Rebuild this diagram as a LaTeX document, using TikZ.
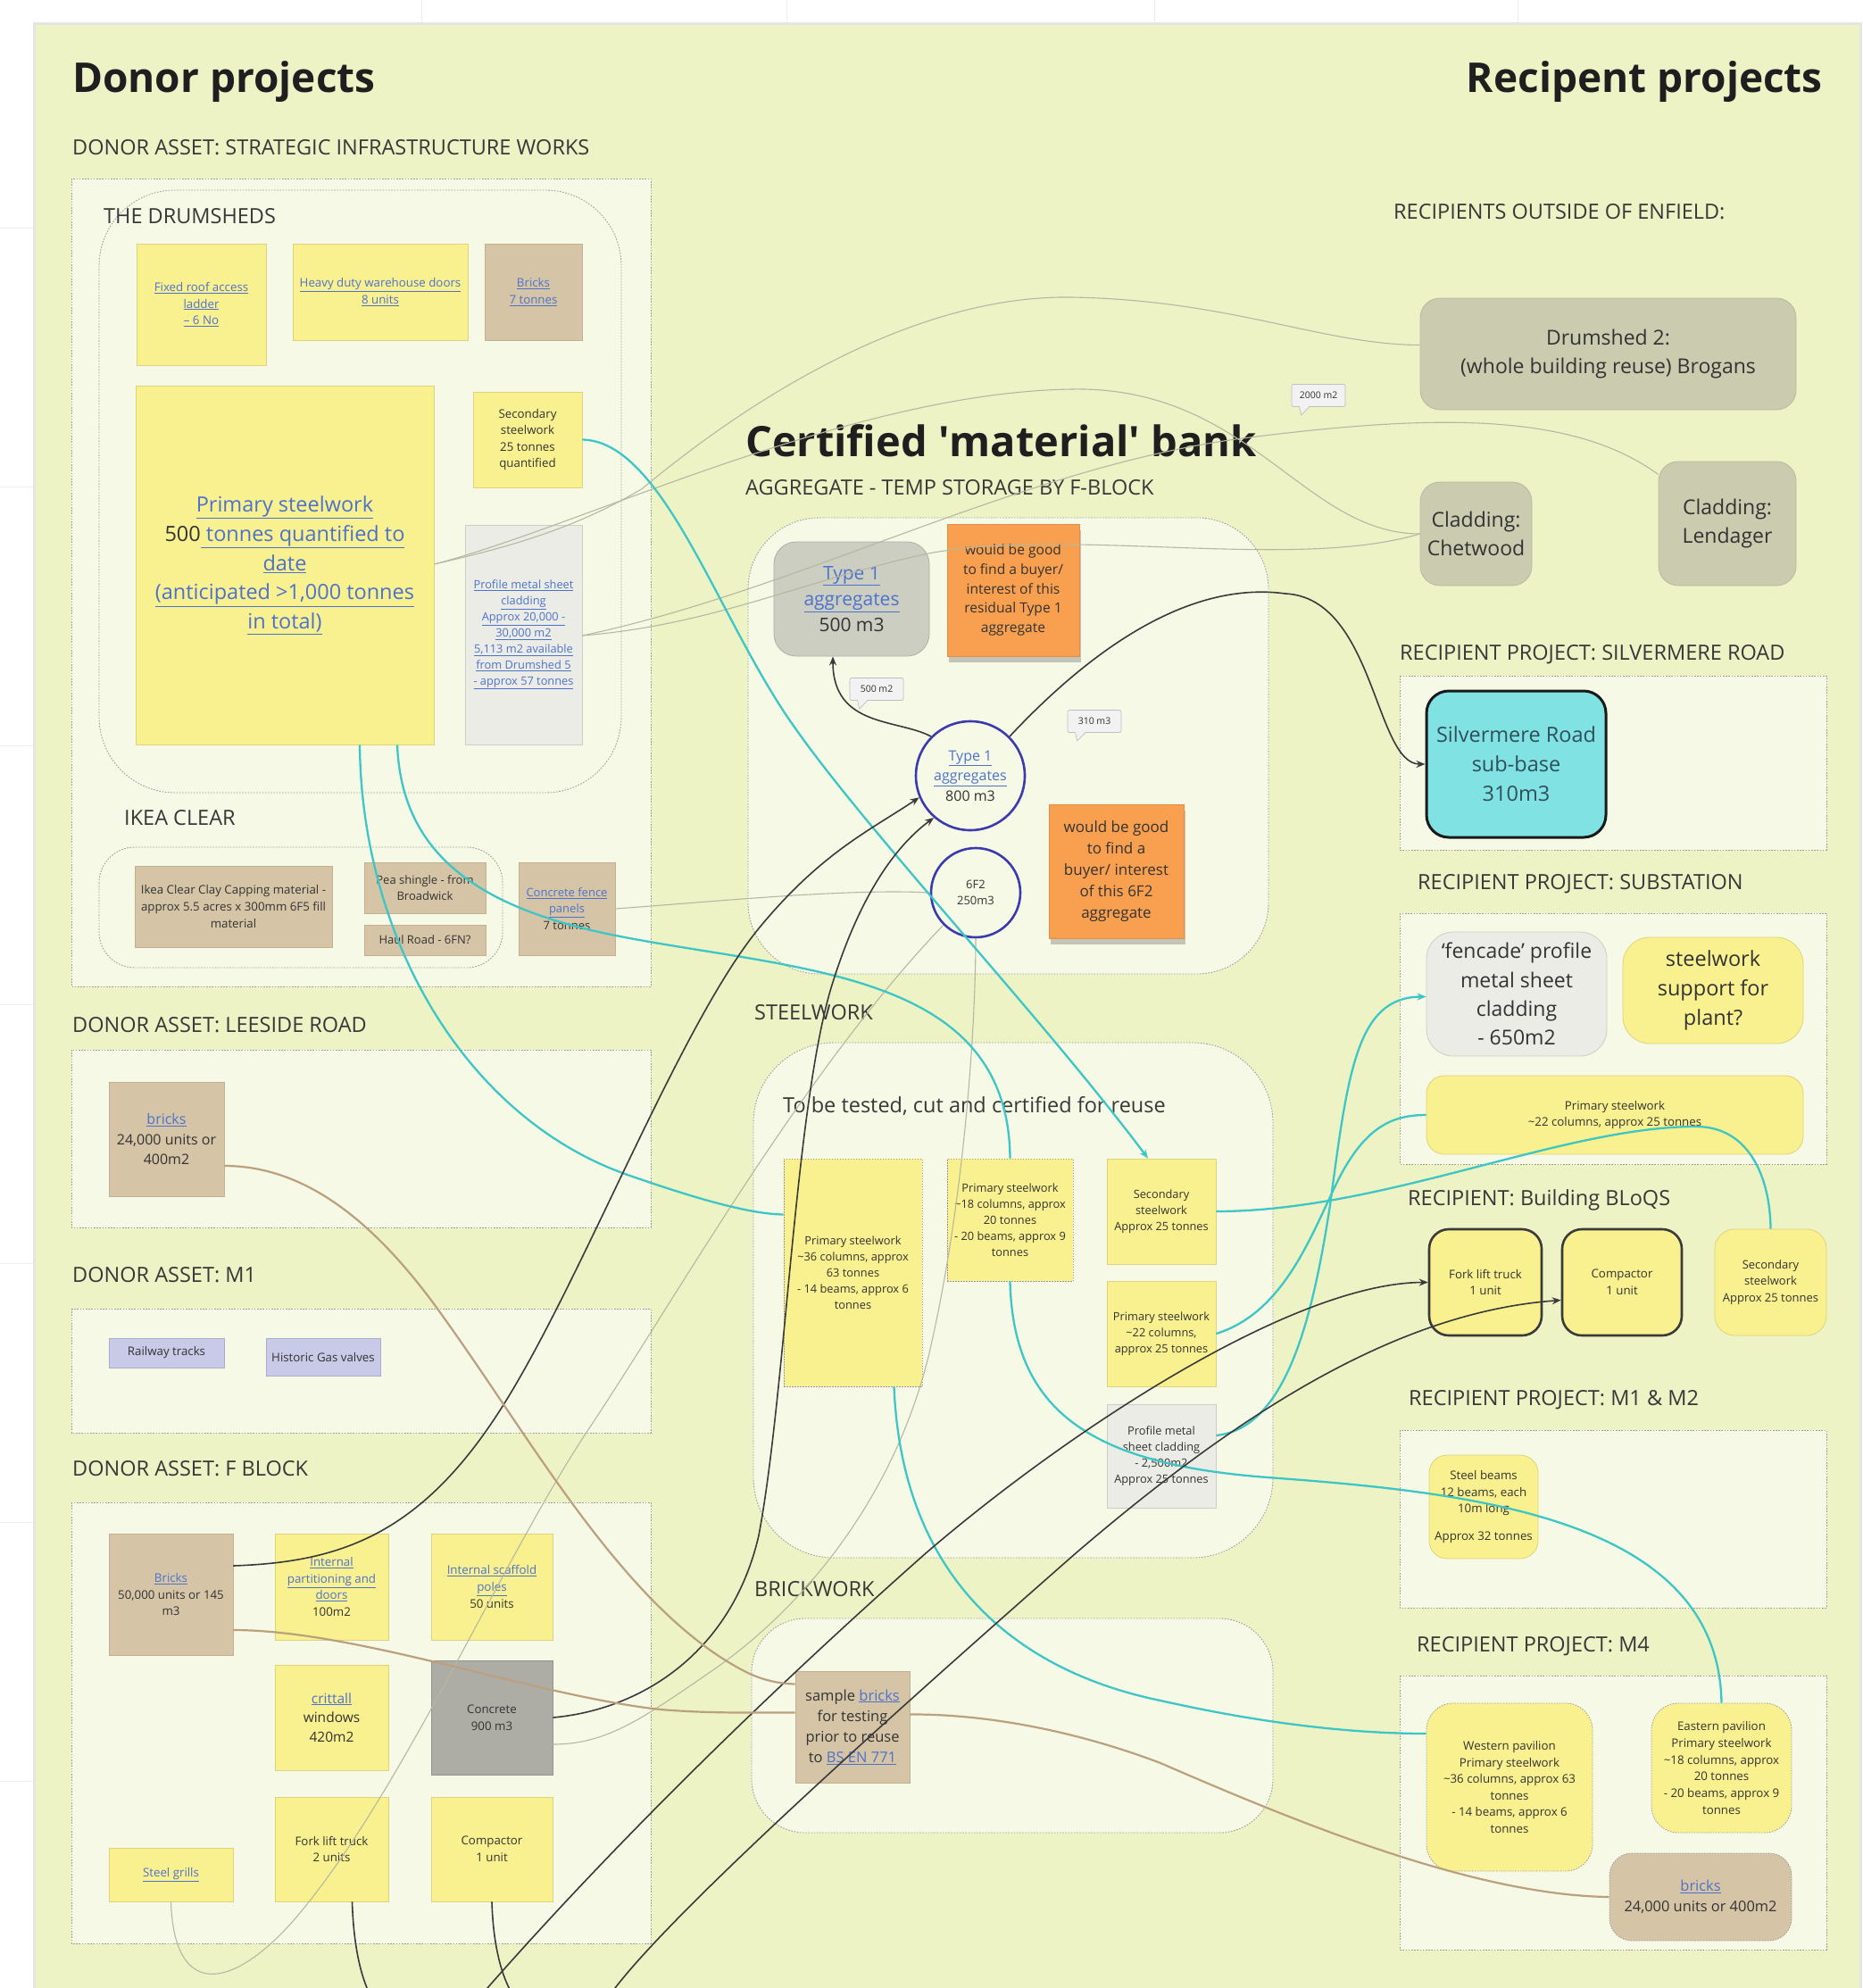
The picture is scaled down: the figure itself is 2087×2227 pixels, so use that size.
\documentclass[tikz,border=0pt]{standalone}
\usepackage{fontspec}
\setmainfont{Open Sans}
\usetikzlibrary{arrows.meta,calc,shadows}

\definecolor{board}{HTML}{EEF3C6}
\definecolor{pale}{HTML}{F6F9E6}
\definecolor{ylw}{HTML}{F9F08F}
\definecolor{ylwd}{HTML}{DDD37C}
\definecolor{tanc}{HTML}{D5C5A6}
\definecolor{tand}{HTML}{C2B190}
\definecolor{greyw}{HTML}{ECECE7}
\definecolor{greywd}{HTML}{CDCDC6}
\definecolor{olive}{HTML}{CBCBB0}
\definecolor{olived}{HTML}{B9B99E}
\definecolor{tonegrey}{HTML}{CDCEC2}
\definecolor{orng}{HTML}{F8A04F}
\definecolor{circ}{HTML}{3B3BAE}
\definecolor{cyanbox}{HTML}{80E2E2}
\definecolor{lav}{HTML}{C9C9E8}
\definecolor{lavd}{HTML}{ABABCC}
\definecolor{concc}{HTML}{ADADA6}
\definecolor{cyanl}{HTML}{3EC6C6}
\definecolor{brownl}{HTML}{BBA07E}
\definecolor{grayl}{HTML}{B5B8A0}
\definecolor{blk}{HTML}{3A3A3A}
\definecolor{link}{HTML}{4D72CC}
\definecolor{txt}{HTML}{333333}
\definecolor{tealtxt}{HTML}{2F4F5A}

\newcommand{\lnk}[1]{\textcolor{link}{\underline{#1}}}
\newcommand{\fsz}[1]{\fontsize{#1}{\dimexpr#1pt*7/5\relax}\selectfont}
% card: [options]{name}{style}{x1}{y1}{x2}{y2}{text}
\newcommand{\card}[8][]{%
  \pgfmathsetmacro{\cardw}{#6-#4}%
  \pgfmathsetmacro{\cardh}{#7-#5}%
  \node[#3, minimum width=\cardw pt, minimum height=\cardh pt, #1] (#2) at ({(#4+#6)/2},{(#5+#7)/2}) {#8};}
\newcommand{\bubbletail}[1]{%
  \fill[white!95!black] ($(#1.south west)+(9,-1)$) -- ($(#1.south west)+(11,9)$) -- ($(#1.south west)+(20,-1)$) -- cycle;
  \draw[black!25, line width=0.7pt] ($(#1.south west)+(9,0)$) -- ($(#1.south west)+(11,9)$) -- ($(#1.south west)+(20,0)$);}

\tikzset{
  every node/.style={text=txt, align=center, inner sep=3pt},
  yel/.style={rectangle, fill=ylw, draw=ylwd, line width=0.8pt},
  yelthick/.style={rectangle, fill=ylw, draw=blk, line width=2.6pt},
  tanbox/.style={rectangle, fill=tanc, draw=tand, line width=0.8pt},
  greybox/.style={rectangle, fill=greyw, draw=greywd, line width=0.8pt},
  lavbox/.style={rectangle, fill=lav, draw=lavd, line width=0.8pt},
  concbox/.style={rectangle, fill=concc, draw=concc!85!black, line width=0.8pt},
  olbox/.style={rectangle, fill=olive, draw=olived, line width=0.8pt},
  tonebox/.style={rectangle, fill=tonegrey, draw=tonegrey!85!black, line width=0.8pt},
  orbox/.style={rectangle, fill=orng, draw=orng!90!black, line width=0.6pt,
    drop shadow={shadow xshift=2pt, shadow yshift=-7pt, opacity=0.35, fill=black!60}},
  cybox/.style={rectangle, fill=cyanbox, draw=black!90, line width=3pt, text=tealtxt},
  ring/.style={circle, draw=circ, line width=2.6pt, fill=pale, minimum size=122pt, inner sep=0pt},
  dotb/.style={dash pattern=on 1.5pt off 1.5pt, draw=black!40},
  cont/.style={fill=pale, draw=black!38, dash pattern=on 1.6pt off 1.6pt, line width=0.9pt},
  hd/.style={font=\bfseries\fsz{46}, text=black!88, inner sep=0pt},
  sec/.style={font=\fsz{23.5}, text=black!78, inner sep=0pt, anchor=west},
  bubble/.style={rectangle, rounded corners=2pt, fill=white!95!black, draw=black!25, line width=0.7pt,
    font=\fsz{10.5}, minimum width=60pt, minimum height=25pt, inner sep=2pt},
  cy/.style={draw=cyanl, line width=2.3pt},
  bk/.style={draw=blk, line width=1.6pt},
  br/.style={draw=brownl, line width=2.2pt},
  fg/.style={draw=grayl, line width=1.1pt},
  tip/.style={-{Stealth[length=10pt,width=8pt]}},
}

\begin{document}
\begin{tikzpicture}[x=1pt,y=-1pt]
\useasboundingbox (0,0) rectangle (2087,2227);
\clip (0,0) rectangle (2087,2227);

% canvas and board
\fill[white] (0,0) rectangle (2087,2227);
\foreach \gx in {472,881,1293,1700} \draw[black!7, line width=1pt] (\gx,0) -- (\gx,28);
\foreach \gy in {255,545,835,1125,1415,1705,1995} \draw[black!7, line width=1pt] (0,\gy) -- (40,\gy);
\fill[black!10] (37,25) rectangle (2086,2227);
\fill[board] (40,28) rectangle (2083,2227);

% group containers
\draw[cont] (80,200) rectangle (729,1105);
\draw[cont, rounded corners=85pt] (111,213) rectangle (696,888);
\draw[cont, rounded corners=40pt] (111,949) rectangle (563,1084);
\draw[cont] (80,1176) rectangle (729,1375);
\draw[cont] (80,1466) rectangle (729,1605);
\draw[cont] (80,1683) rectangle (729,2177);
\draw[cont, rounded corners=80pt] (838,580) rectangle (1421,1091);
\draw[cont, rounded corners=90pt] (844,1168) rectangle (1426,1745);
\draw[cont, rounded corners=60pt] (842,1813) rectangle (1426,2053);
\draw[cont] (1568,757) rectangle (2046,952);
\draw[cont] (1568,1023) rectangle (2046,1304);
\draw[cont] (1568,1602) rectangle (2046,1801);
\draw[cont] (1568,1877) rectangle (2046,2184);

% titles and section labels
\node[hd, anchor=west] (tDonor) at (81,92) {Donor projects};
\node[hd, anchor=east] (tRecip) at (2042,92) {Recipent projects};
\node[hd, font=\bfseries\fsz{47}, anchor=west] (tBank) at (835,494) {Certified \textquotesingle material\textquotesingle\ bank};
\node[sec] (lblSIW) at (81,165) {DONOR ASSET: STRATEGIC INFRASTRUCTURE WORKS};
\node[sec] (lblDrum) at (116,242) {THE DRUMSHEDS};
\node[sec] (lblIkea) at (139,916) {IKEA CLEAR};
\node[sec] (lblLee) at (81,1148) {DONOR ASSET: LEESIDE ROAD};
\node[sec] (lblM1) at (81,1428) {DONOR ASSET: M1};
\node[sec] (lblF) at (81,1645) {DONOR ASSET: F BLOCK};
\node[sec] (lblAgg) at (835,546) {AGGREGATE - TEMP STORAGE BY F-BLOCK};
\node[sec] (lblSteel) at (845,1134) {STEELWORK};
\node[sec] (lblTest) at (877,1239) {To be tested, cut and certified for reuse};
\node[sec] (lblBrick) at (845,1780) {BRICKWORK};
\node[sec] (lblOut) at (1561,237) {RECIPIENTS OUTSIDE OF ENFIELD:};
\node[sec] (lblSilv) at (1568,733) {RECIPIENT PROJECT: SILVERMERE ROAD};
\node[sec] (lblSub) at (1588,990) {RECIPIENT PROJECT: SUBSTATION};
\node[sec] (lblBloqs) at (1577,1344) {RECIPIENT: Building BLoQS};
\node[sec] (lblM12) at (1578,1568) {RECIPIENT PROJECT: M1 \& M2};
\node[sec] (lblM4) at (1587,1844) {RECIPIENT PROJECT: M4};

% The Drumsheds
\card[font=\fsz{13.3}]{ladder}{yel}{153}{273}{298}{409}{\lnk{Fixed roof access}\\\lnk{ladder}\\\lnk{– 6 No}}
\card[font=\fsz{13.3}]{doors}{yel}{328}{273}{524}{381}{\lnk{Heavy duty warehouse doors}\\\lnk{8 units}}
\card[font=\fsz{13.3}]{bricksD}{tanbox}{543}{273}{652}{381}{\lnk{Bricks}\\\lnk{7 tonnes}}
\card[font=\fsz{23.5}]{prim}{yel}{152}{432}{486}{834}{\lnk{Primary steelwork}\\500\lnk{ tonnes quantified to}\\\lnk{date}\\\lnk{(anticipated >1,000 tonnes}\\\lnk{in total)}}
\card[font=\fsz{13.3}]{dsec}{yel}{530}{439}{652}{546}{Secondary\\steelwork\\25 tonnes\\quantified}
\card[font=\fsz{12.8}]{dclad}{greybox}{521}{588}{652}{834}{\lnk{Profile metal sheet}\\\lnk{cladding}\\\lnk{Approx 20,000 -}\\\lnk{30,000 m2}\\\lnk{5,113 m2 available}\\\lnk{from Drumshed 5}\\\lnk{- approx 57 tonnes}}

% Ikea Clear
\card[font=\fsz{13.3}]{clay}{tanbox}{151}{970}{372}{1061}{Ikea Clear Clay Capping material -\\approx 5.5 acres x 300mm 6F5 fill\\material}
\card[font=\fsz{13}]{pea}{tanbox}{408}{966}{544}{1023}{Pea shingle - from\\Broadwick}
\card[font=\fsz{13}]{haul}{tanbox}{408}{1036}{544}{1070}{Haul Road - 6FN?}
\card[font=\fsz{13}]{fence}{tanbox}{581}{966}{689}{1070}{\lnk{Concrete fence}\\\lnk{panels}\\7 tonnes}

% Leeside Road
\card[font=\fsz{16}]{lbricks}{tanbox}{122}{1212}{251}{1340}{\lnk{bricks}\\24,000 units or\\400m2}

% M1
\card[font=\fsz{13.3}]{rail}{lavbox}{122}{1499}{251}{1532}{Railway tracks}
\card[font=\fsz{13.3}]{gas}{lavbox}{298}{1499}{426}{1541}{Historic Gas valves}

% F Block
\card[font=\fsz{13.3}]{fbricks}{tanbox}{122}{1718}{261}{1854}{\lnk{Bricks}\\50,000 units or 145\\m3}
\card[font=\fsz{13.3}]{part}{yel}{308}{1718}{435}{1837}{\lnk{Internal}\\\lnk{partitioning and}\\\lnk{doors}\\100m2}
\card[font=\fsz{13.3}]{scaff}{yel}{483}{1718}{619}{1837}{\lnk{Internal scaffold}\\\lnk{poles}\\50 units}
\card[font=\fsz{15.5}]{critt}{yel}{308}{1865}{435}{1983}{\lnk{crittall}\\windows\\420m2}
\card[font=\fsz{13.3}]{concr}{concbox}{483}{1860}{619}{1988}{Concrete\\900 m3}
\card[font=\fsz{13.3}]{grills}{yel}{122}{2070}{261}{2130}{\lnk{Steel grills}}
\card[font=\fsz{13.3}]{ffork}{yel}{308}{2013}{435}{2130}{Fork lift truck\\2 units}
\card[font=\fsz{13.3}]{fcomp}{yel}{483}{2013}{619}{2130}{Compactor\\1 unit}

% Aggregate bank
\card[font=\fsz{21}, rounded corners=25pt]{t1g}{tonebox}{867}{607}{1041}{735}{\lnk{Type 1}\\\lnk{aggregates}\\500 m3}
\card[font=\fsz{15.6}]{or1}{orbox}{1061}{587}{1209}{735}{would be good\\to find a buyer/\\interest of this\\residual Type 1\\aggregate}
\node[ring, font=\fsz{16}] (t1c) at (1087,869) {\lnk{Type 1}\\\lnk{aggregates}\\800 m3};
\node[ring, minimum size=100pt, font=\fsz{13}] (f62) at (1093,1000) {6F2\\250m3};
\card[font=\fsz{17}]{or2}{orbox}{1175}{901}{1326}{1051}{would be good\\to find a\\buyer/ interest\\of this 6F2\\aggregate}

% Steelwork bank
\card[font=\fsz{12.8}, dotb]{s36}{yel}{878}{1298}{1033}{1553}{Primary steelwork\\\textasciitilde36 columns, approx\\63 tonnes\\- 14 beams, approx 6\\tonnes}
\card[font=\fsz{12.8}, dotb]{s18}{yel}{1061}{1298}{1202}{1435}{Primary steelwork\\\textasciitilde18 columns, approx\\20 tonnes\\- 20 beams, approx 9\\tonnes}
\card[font=\fsz{12.8}]{ssec}{yel}{1240}{1298}{1362}{1416}{Secondary\\steelwork\\Approx 25 tonnes}
\card[font=\fsz{12.8}]{s22}{yel}{1240}{1435}{1362}{1553}{Primary steelwork\\\textasciitilde22 columns,\\approx 25 tonnes}
\card[font=\fsz{12.8}]{sclad}{greybox}{1240}{1573}{1362}{1689}{Profile metal\\sheet cladding\\- 2,500m2\\Approx 25 tonnes}

% Brickwork bank
\card[font=\fsz{16.5}]{sample}{tanbox}{891}{1872}{1019}{1997}{sample \lnk{bricks}\\for testing\\prior to reuse\\to \lnk{BS EN 771}}

% Recipients outside of Enfield
\card[font=\fsz{23}, rounded corners=22pt]{drum2}{olbox}{1591}{334}{2012}{459}{Drumshed 2:\\(whole building reuse) Brogans}
\card[font=\fsz{23}, rounded corners=22pt]{chet}{olbox}{1591}{540}{1716}{656}{Cladding:\\Chetwood}
\card[font=\fsz{23}, rounded corners=22pt]{lend}{olbox}{1858}{517}{2012}{656}{Cladding:\\Lendager}

% Silvermere Road
\card[font=\fsz{23.5}, rounded corners=25pt]{silv}{cybox}{1598}{774}{1799}{938}{Silvermere Road\\sub-base\\310m3}

% Substation
\card[font=\fsz{23}, rounded corners=30pt]{fenc}{greybox}{1598}{1044}{1800}{1183}{‘fencade’ profile\\metal sheet\\cladding\\- 650m2}
\card[font=\fsz{23.5}, rounded corners=30pt]{plant}{yel}{1818}{1050}{2020}{1169}{steelwork\\support for\\plant?}
\card[font=\fsz{13.3}, rounded corners=20pt]{subprim}{yel}{1598}{1205}{2020}{1293}{Primary steelwork\\\textasciitilde22 columns, approx 25 tonnes}

% Building BLoQS
\card[font=\fsz{13.3}, rounded corners=22pt]{bfork}{yelthick}{1601}{1377}{1727}{1496}{Fork lift truck\\1 unit}
\card[font=\fsz{13.3}, rounded corners=22pt]{bcomp}{yelthick}{1750}{1377}{1884}{1496}{Compactor\\1 unit}
\card[font=\fsz{13}, rounded corners=22pt]{bsec}{yel}{1921}{1377}{2046}{1496}{Secondary\\steelwork\\Approx 25 tonnes}

% M1 & M2
\card[font=\fsz{13.3}, rounded corners=20pt]{beams}{yel}{1601}{1630}{1723}{1746}{Steel beams\\12 beams, each\\10m long\\[12pt]Approx 32 tonnes}

% M4
\card[font=\fsz{13.3}, rounded corners=30pt, dotb]{west}{yel}{1598}{1908}{1784}{2096}{Western pavilion\\Primary steelwork\\\textasciitilde36 columns, approx 63\\tonnes\\- 14 beams, approx 6\\tonnes}
\card[font=\fsz{13.3}, rounded corners=30pt, dotb]{east}{yel}{1850}{1908}{2007}{2053}{Eastern pavilion\\Primary steelwork\\\textasciitilde18 columns, approx\\20 tonnes\\- 20 beams, approx 9\\tonnes}
\card[font=\fsz{16.4}, rounded corners=25pt, dotb]{m4bricks}{tanbox}{1803}{2076}{2007}{2174}{\lnk{bricks}\\24,000 units or 400m2}

% quantity call-outs
\node[bubble] (cb500) at (982,772) {500 m2};
\bubbletail{cb500}
\node[bubble] (cb310) at (1226,808) {310 m3};
\bubbletail{cb310}
\node[bubble] (cb2000) at (1477,443) {2000 m2};
\bubbletail{cb2000}

% faint links
\draw[fg] ($(prim.east)+(0,-1)$) .. controls (560,615) and (640,595) .. (720,547) .. controls (800,480) and (1000,330) .. (1200,333) .. controls (1380,336) and (1480,386) .. ($(drum2.west)+(0,-10)$);
\draw[fg] ($(prim.east)+(0,-1)$) .. controls (650,590) and (950,440) .. (1200,436) .. controls (1400,432) and (1460,598) .. (chet.west);
\draw[fg] ($(dclad.east)+(0,1)$) .. controls (900,660) and (1150,520) .. (1400,490) .. controls (1600,465) and (1760,460) .. ($(lend.west)+(0,-55)$);
\draw[fg] ($(dclad.east)+(0,1)$) .. controls (800,700) and (900,650) .. (1040,620) .. controls (1200,590) and (1450,640) .. (chet.west);
\draw[fg] (fence.east) .. controls (800,1010) and (950,995) .. (f62.west);
\draw[fg] (f62.south) .. controls (1093,1150) and (1080,1350) .. (1040,1520) .. controls (1000,1680) and (900,1800) .. (800,1870) .. controls (720,1925) and (680,1954) .. ($(concr.east)+(0,30)$);
\draw[fg] (grills.south) .. controls (195,2240) and (260,2230) .. (330,2150) .. controls (450,2010) and (560,1750) .. (660,1600) .. controls (760,1450) and (900,1200) .. (f62.225);

% steel links
\draw[cy,tip] (dsec.east) .. controls (740,494) and (800,680) .. (880,800) .. controls (960,920) and (1160,1130) .. ($(ssec.north)+(-15,0)$);
\draw[cy] ($(prim.south)+(84,0)$) .. controls (405,1050) and (520,1250) .. (700,1315) .. controls (780,1343) and (840,1360) .. ($(s36.west)+(0,-65)$);
\draw[cy] ($(prim.south)+(126,0)$) .. controls (450,960) and (540,1020) .. (700,1050) .. controls (900,1088) and (1130,1090) .. (s18.north);
\draw[cy] ($(s36.south)+(46,0)$) .. controls (1010,1760) and (1130,1870) .. (1300,1905) .. controls (1420,1932) and (1520,1942) .. ($(west.west)+(0,-60)$);
\draw[cy] (s18.south) .. controls (1135,1580) and (1220,1640) .. (1420,1655) .. controls (1650,1672) and (1925,1700) .. (east.north);
\draw[cy] (ssec.east) .. controls (1550,1357) and (1750,1262) .. (1900,1262) .. controls (1960,1262) and (1983,1320) .. (bsec.north);
\draw[cy] (s22.east) .. controls (1440,1470) and (1470,1380) .. (1500,1320) .. controls (1530,1262) and (1560,1249) .. (subprim.west);
\draw[cy,tip] ($(sclad.east)+(0,-23)$) .. controls (1440,1600) and (1470,1480) .. (1490,1350) .. controls (1510,1200) and (1520,1117) .. ($(fenc.west)+(0,3)$);

% aggregate and plant links
\draw[bk,tip] (t1c.135) .. controls (1005,805) and (933,815) .. ($(t1g.south)+(-21,0)$);
\draw[bk,tip] (t1c.45) .. controls (1220,730) and (1330,650) .. (1440,665) .. controls (1540,670) and (1540,856) .. (silv.west);
\draw[bk,tip] ($(fbricks.east)+(0,-32)$) .. controls (380,1750) and (470,1720) .. (560,1580) .. controls (650,1440) and (760,1150) .. (850,1040) .. controls (920,955) and (975,930) .. (t1c.203);
\draw[bk,tip] (concr.east) .. controls (720,1915) and (820,1850) .. (850,1720) .. controls (880,1560) and (890,1250) .. (930,1110) .. controls (960,1010) and (1000,950) .. (t1c.229);
\draw[bk,tip] ($(ffork.south)+(23,0)$) .. controls (400,2300) and (480,2300) .. (546,2227) .. controls (640,2120) and (800,1950) .. (1037,1740) .. controls (1200,1600) and (1450,1437) .. (bfork.west);
\draw[bk,tip] (fcomp.south) .. controls (556,2290) and (640,2290) .. (689,2227) .. controls (760,2135) and (1000,1920) .. (1205,1740) .. controls (1380,1590) and (1560,1470) .. ($(bcomp.west)+(0,20)$);

% brick links
\draw[br] ($(lbricks.east)+(0,30)$) .. controls (350,1306) and (430,1380) .. (500,1480) .. controls (600,1620) and (700,1800) .. (830,1870) .. controls (850,1881) and (870,1886) .. ($(sample.west)+(0,-48)$);
\draw[br] ($(fbricks.east)+(0,40)$) .. controls (400,1826) and (600,1900) .. (740,1915) .. controls (800,1920) and (850,1918) .. ($(sample.west)+(0,-16)$);
\draw[br] ($(sample.east)+(0,-14)$) .. controls (1100,1920) and (1200,1937) .. (1300,1975) .. controls (1450,2040) and (1650,2123) .. (m4bricks.west);

\end{tikzpicture}
\end{document}
